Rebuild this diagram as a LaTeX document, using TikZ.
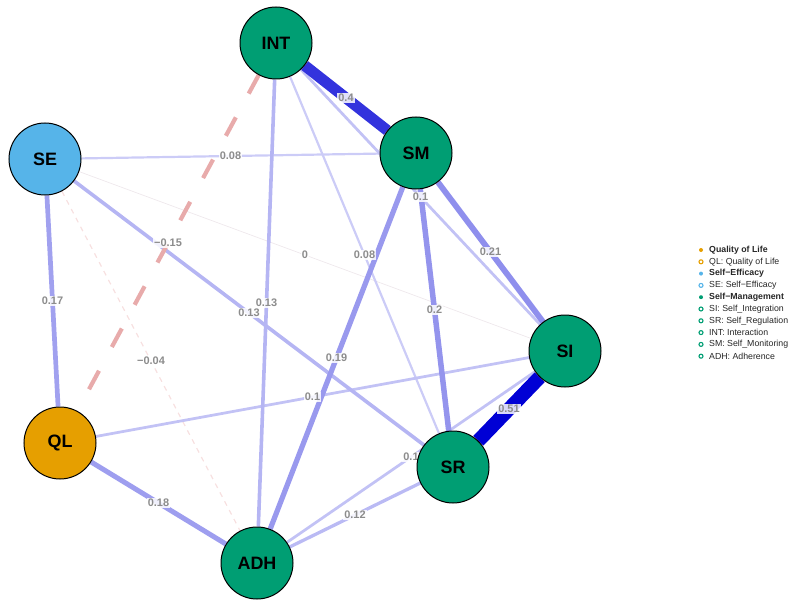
\documentclass[tikz,border=0pt]{standalone}
\usepackage{fontspec}
\setmainfont{Liberation Sans}
\pgfdeclarelayer{edges}
\pgfdeclarelayer{labels}
\pgfsetlayers{edges,labels,main}
\definecolor{pos}{HTML}{0000D5}
\definecolor{negc}{HTML}{BA0000}
\definecolor{grn}{HTML}{009E73}
\definecolor{seblue}{HTML}{56B4E9}
\definecolor{qlorange}{HTML}{E69F00}
\definecolor{lblgray}{HTML}{8C8C8C}
\definecolor{zeroc}{HTML}{EEE8EC}
\tikzset{
  vert/.style={circle, draw=black, line width=1bp, minimum size=72bp, inner sep=0pt,
    font=\fontsize{18}{18}\selectfont\bfseries},
  e/.style 2 args={draw=pos!#1!white, line width=#2},
  lbl/.style={fill=white, fill opacity=0.85, text opacity=1, text=lblgray, inner sep=1bp,
    font=\fontsize{11}{11}\selectfont\bfseries},
  leg/.style={anchor=west, inner sep=0pt, text=black!85, font=\fontsize{8.8}{9}\selectfont},
  legb/.style={leg, font=\fontsize{8.8}{9}\selectfont\bfseries},
  fdot/.style={circle, inner sep=0pt, minimum size=4bp, fill=#1},
  odot/.style={circle, inner sep=0pt, minimum size=4bp, draw=#1, line width=1.1bp},
}
\begin{document}
\begin{tikzpicture}[x=1bp, y=-1bp]
\useasboundingbox (0,0) rectangle (795,604);
% nodes
\node[vert, fill=grn]      (INT) at (276,43)  {INT};
\node[vert, fill=grn]      (SM)  at (416,153) {SM};
\node[vert, fill=seblue]   (SE)  at (45,159)  {SE};
\node[vert, fill=grn]      (SI)  at (565,351) {SI};
\node[vert, fill=grn]      (SR)  at (453,467) {SR};
\node[vert, fill=grn]      (ADH) at (257,563) {ADH};
\node[vert, fill=qlorange] (QL)  at (60,443)  {QL};
% edges
\begin{pgfonlayer}{edges}
\draw[draw=zeroc, line width=0.7bp] (SE) -- (SI);
\draw[draw=negc!12!white, line width=1.2bp, dash pattern=on 5bp off 5bp] (SE) -- (ADH);
\draw[e={20}{2.2bp}] (SE) -- (SM);
\draw[e={20}{2.2bp}] (INT) -- (SR);
\draw[e={24}{2.75bp}] (INT) -- (SI);
\draw[e={24}{2.75bp}] (QL) -- (SI);
\draw[e={24}{2.75bp}] (SI) -- (ADH);
\draw[e={27}{3.3bp}] (SR) -- (ADH);
\draw[e={29}{3.6bp}] (INT) -- (ADH);
\draw[e={29}{3.6bp}] (SE) -- (SR);
\draw[draw=negc!33!white, line width=4.2bp, dash pattern=on 21bp off 27bp] (INT) -- (QL);
\draw[e={37}{4.7bp}] (SE) -- (QL);
\draw[e={38}{5bp}] (QL) -- (ADH);
\draw[e={40}{5.2bp}] (SM) -- (ADH);
\draw[e={42}{5.5bp}] (SM) -- (SR);
\draw[e={44}{5.8bp}] (SM) -- (SI);
\draw[e={80}{11bp}] (INT) -- (SM);
\draw[e={100}{14bp}] (SI) -- (SR);
\end{pgfonlayer}
% edge labels
\begin{pgfonlayer}{labels}
\path (SE) -- (SI) node[lbl, midway] (l01) {0};
\path (SE) -- (ADH) node[lbl, midway] (l02) {−0.04};
\path (SE) -- (SM) node[lbl, midway] (l03) {0.08};
\path (INT) -- (SR) node[lbl, midway] (l04) {0.08};
\path (INT) -- (SI) node[lbl, midway] (l05) {0.1};
\path (QL) -- (SI) node[lbl, midway] (l06) {0.1};
\path (SI) -- (ADH) node[lbl, midway] (l07) {0.1};
\path (SR) -- (ADH) node[lbl, midway] (l08) {0.12};
\path (INT) -- (ADH) node[lbl, midway] (l09) {0.13};
\path (SE) -- (SR) node[lbl, midway] (l10) {0.13};
\path (INT) -- (QL) node[lbl, midway] (l11) {−0.15};
\path (SE) -- (QL) node[lbl, midway] (l12) {0.17};
\path (QL) -- (ADH) node[lbl, midway] (l13) {0.18};
\path (SM) -- (ADH) node[lbl, midway] (l14) {0.19};
\path (SM) -- (SR) node[lbl, midway] (l15) {0.2};
\path (SM) -- (SI) node[lbl, midway] (l16) {0.21};
\path (INT) -- (SM) node[lbl, midway] (l17) {0.4};
\path (SI) -- (SR) node[lbl, midway] (l18) {0.51};
\end{pgfonlayer}
% legend
\node[fdot=qlorange] (g1) at (701,250.0) {};
\node[legb] (t1) at (709,250.0) {Quality of Life};
\node[odot=qlorange] (g2) at (701,261.8) {};
\node[leg] (t2) at (709,261.8) {QL: Quality of Life};
\node[fdot=seblue] (g3) at (701,273.6) {};
\node[legb] (t3) at (709,273.6) {Self−Efficacy};
\node[odot=seblue] (g4) at (701,285.4) {};
\node[leg] (t4) at (709,285.4) {SE: Self−Efficacy};
\node[fdot=grn] (g5) at (701,297.2) {};
\node[legb] (t5) at (709,297.2) {Self−Management};
\node[odot=grn] (g6) at (701,309.0) {};
\node[leg] (t6) at (709,309.0) {SI: Self\_Integration};
\node[odot=grn] (g7) at (701,320.8) {};
\node[leg] (t7) at (709,320.8) {SR: Self\_Regulation};
\node[odot=grn] (g8) at (701,332.6) {};
\node[leg] (t8) at (709,332.6) {INT: Interaction};
\node[odot=grn] (g9) at (701,344.4) {};
\node[leg] (t9) at (709,344.4) {SM: Self\_Monitoring};
\node[odot=grn] (g10) at (701,356.2) {};
\node[leg] (t10) at (709,356.2) {ADH: Adherence};
\end{tikzpicture}
\end{document}
